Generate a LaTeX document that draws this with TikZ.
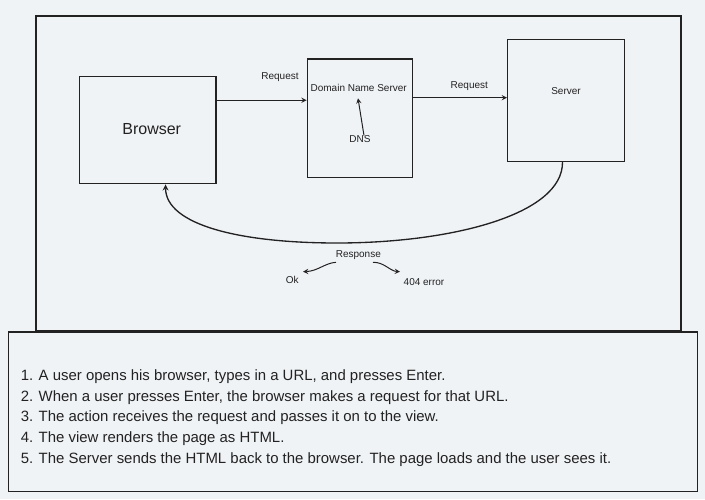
\documentclass[tikz,border=0pt]{standalone}
\usepackage{fontspec}
\setmainfont{Liberation Sans}
\usetikzlibrary{positioning,arrows,calc}
\definecolor{canvas}{RGB}{240,243,246}
\definecolor{ink}{RGB}{34,34,34}

\begin{document}
\begin{tikzpicture}[x=0.75pt,y=-0.75pt,>=stealth,
    box/.style={draw=ink,line width=1.1pt,inner sep=0pt},
    lbl/.style={font=\fontsize{7.5}{9}\selectfont,text=ink,inner sep=1pt},
    link/.style={->,draw=ink,line width=0.75pt}]
   \useasboundingbox[fill=canvas] (0,0) rectangle (705,499);
   % frames
   \draw[ink,line width=1.1pt] (36,16) rectangle (681,330.5);
   \draw[ink,line width=1.1pt] (8.5,332) rectangle (697.5,491.5);
   % boxes
   \node[box,minimum width=102.4pt,minimum height=80.6pt] (browser) at (147.5,130) {};
   \node[box,minimum width=79pt,minimum height=88.7pt] (dns) at (360,118.2) {};
   \node[box,minimum width=87.4pt,minimum height=91.2pt] (server) at (566,100.5) {};
   \node[text=ink,font=\fontsize{12}{14}\selectfont] (brwname) at (151.7,129.5) {Browser};
   \node[lbl] (dnsname) at (358.7,88) {Domain Name Server};
   \node[lbl] (dnslbl) at (360,138.7) {DNS};
   \node[lbl] (srvname) at (566,90.7) {Server};
   \node[lbl] (req1) at (280,76.7) {Request};
   \node[lbl] (req2) at (469.3,86) {Request};
   \node[lbl] (resp) at (358.3,255) {Response};
   \node[lbl] (ok) at (292.3,280) {Ok};
   \node[lbl] (err) at (424,282) {404 error};
   \coordinate (rq1) at (0,100.3);
   \coordinate (rq2) at (0,97.7);
   \coordinate (dip) at (337,243);
   \coordinate (okstart) at (336,262.3);
   \coordinate (okend) at (303,271.7);
   \coordinate (errstart) at (373,262.3);
   \coordinate (errend) at (400,271.7);
    \draw[link] (browser.east |- rq1) -- (dns.west |- rq1);
    \draw[link] (dns.east |- rq2) -- (server.west |- rq2);
    \draw[link] ($(dnslbl.north)+(4,2)$) -- ($(dnsname.south)+(-0.7,5)$);
    \draw[link,line width=1pt] ($(server.south)+(-3.5,0)$) .. controls (563,215) and (450,243) .. (dip)
          .. controls (240,243) and (166,225) .. ($(browser.south)+(18,0)$);
    \draw[link] (okstart) .. controls (325,263) and (318,271) .. (okend);
    \draw[link] (errstart) .. controls (384,262) and (390,271) .. (errend);
   % steps
   \node[anchor=west,align=left,inner sep=0pt,text=ink,font=\fontsize{11.2}{15.5}\selectfont] (steps) at (20.5,418)
     {1. A user opens his browser, types in a URL, and presses Enter.\\
      2. When a user presses Enter, the browser makes a request for that URL.\\
      3. The action receives the request and passes it on to the view.\\
      4. The view renders the page as HTML.\\
      5. The Server sends the HTML back to the browser. The page loads and the user sees it.};
\end{tikzpicture}
\end{document}
